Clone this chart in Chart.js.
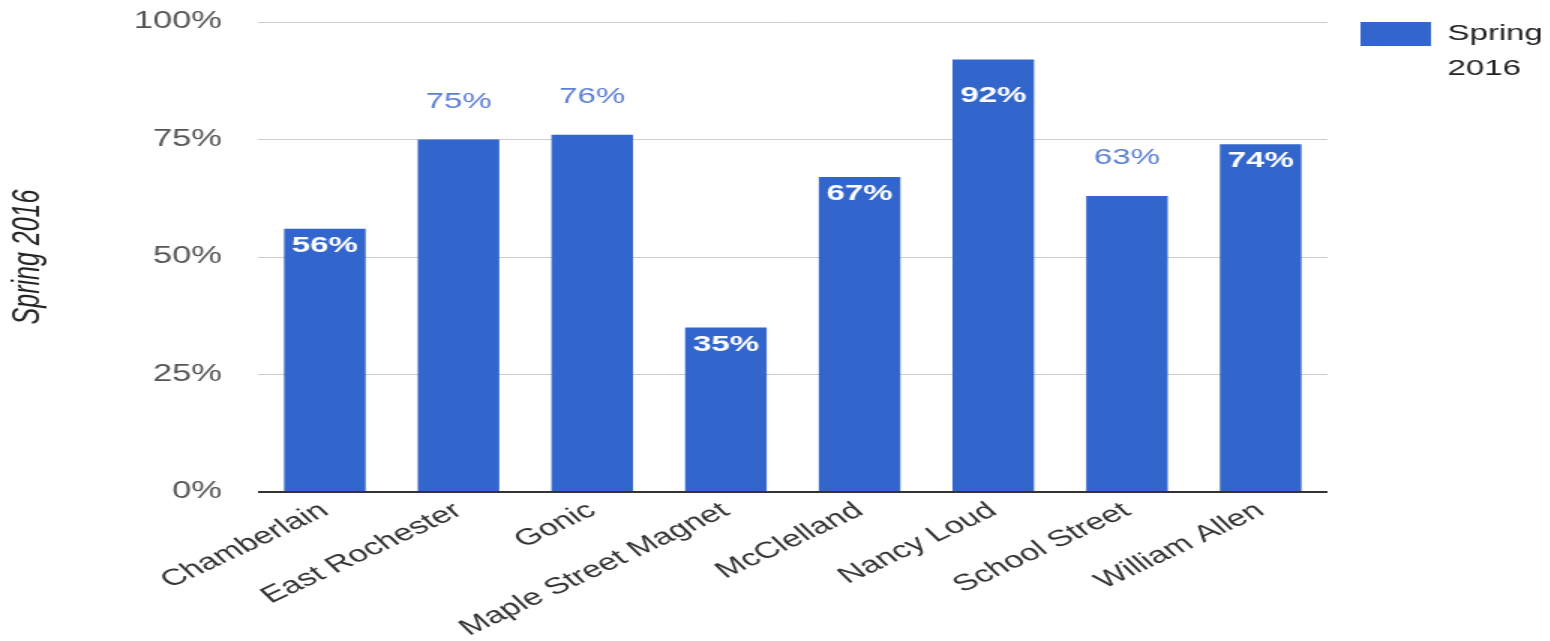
<!DOCTYPE html>
<html>
<head>
<meta charset="utf-8">
<script src="https://cdn.jsdelivr.net/npm/chart.js@4"></script>
<style>
    html, body { margin: 0; padding: 0; background: #fff; overflow: hidden; }
    /* the reference is stretched sideways, so draw narrow and scale the box */
    #wrap { width: 1033px; height: 641px; transform: scaleX(1.5); transform-origin: 0 0; }
</style>
</head>
<body>
<div id="wrap"><canvas id="chart" width="1033" height="641"></canvas></div>
<script>
// Data
const schools = ['Chamberlain', 'East Rochester', 'Gonic', 'Maple Street Magnet', 'McClelland', 'Nancy Loud', 'School Street', 'William Allen'];
const spring2016 = [56, 75, 76, 35, 67, 92, 63, 74];
const yTicks = [0, 25, 50, 75, 100];
const seriesName = 'Spring 2016';
// where the value label sits: inside the bar top, above it, or lower inside
const labelPlace = ['in', 'out', 'out', 'in', 'in', 'low', 'out', 'in'];

const FONT = "'Liberation Sans', Arial, sans-serif";
const BAR = '#3366cc';

// value labels on the bars
const barLabels = {
    id: 'barLabels',
    afterDatasetsDraw(chart) {
        const ctx = chart.ctx;
        const meta = chart.getDatasetMeta(0);
        ctx.save();
        ctx.textAlign = 'center';
        ctx.textBaseline = 'middle';
        meta.data.forEach((bar, i) => {
            const text = spring2016[i] + '%';
            const place = labelPlace[i];
            if (place === 'out') {
                ctx.font = '22px ' + FONT;
                ctx.fillStyle = '#5a7fd6';
                ctx.fillText(text, bar.x, bar.y - 38);
            } else {
                ctx.font = 'bold 22px ' + FONT;
                ctx.fillStyle = '#ffffff';
                ctx.fillText(text, bar.x, bar.y + (place === 'low' ? 36 : 17));
            }
        });
        ctx.restore();
    }
};

// legend on the right, name wrapped on two lines
const sideLegend = {
    id: 'sideLegend',
    afterDraw(chart) {
        const ctx = chart.ctx;
        ctx.save();
        ctx.fillStyle = BAR;
        ctx.fillRect(907, 22, 47, 24);
        ctx.font = '22px ' + FONT;
        ctx.fillStyle = '#222';
        ctx.textAlign = 'left';
        ctx.textBaseline = 'middle';
        seriesName.split(' ').forEach((word, i) => {
            ctx.fillText(word, 965, 34 + i * 35);
        });
        ctx.restore();
    }
};

new Chart(document.getElementById('chart'), {
    type: 'bar',
    data: {
        labels: schools,
        datasets: [{
            label: seriesName,
            data: spring2016,
            backgroundColor: BAR,
            borderWidth: 0,
            barPercentage: 0.61,
            categoryPercentage: 1
        }]
    },
    options: {
        responsive: false,
        animation: false,
        layout: { padding: { top: 22, right: 148, bottom: 0, left: 0 } },
        plugins: {
            legend: { display: false },
            tooltip: { enabled: false }
        },
        scales: {
            x: {
                grid: { display: false },
                border: { display: false },
                ticks: {
                    color: '#333',
                    font: { family: FONT, size: 23 },
                    maxRotation: 35,
                    minRotation: 35,
                    autoSkip: false,
                    padding: -3
                },
                afterFit(scale) { scale.height = 149; scale.paddingLeft = 0; scale.paddingRight = 0; }
            },
            y: {
                min: 0,
                max: 100,
                afterBuildTicks(scale) { scale.ticks = yTicks.map(v => ({ value: v })); },
                grid: {
                    drawTicks: false,
                    color: ctx => ctx.tick && ctx.tick.value === 0 ? '#333' : '#cccccc',
                    lineWidth: ctx => ctx.tick && ctx.tick.value === 0 ? 2 : 1
                },
                border: { display: false },
                ticks: {
                    color: '#555',
                    font: { family: FONT, size: 23 },
                    padding: 24,
                    callback: v => v + '%'
                },
                title: {
                    display: true,
                    text: seriesName,
                    color: '#222',
                    font: { family: FONT, size: 25, style: 'italic' },
                    padding: { top: 4, bottom: 0 }
                },
                afterFit(scale) { scale.width = 172; scale.paddingTop = 0; scale.paddingBottom = 0; }
            }
        }
    },
    plugins: [barLabels, sideLegend]
});
</script>
</body>
</html>
